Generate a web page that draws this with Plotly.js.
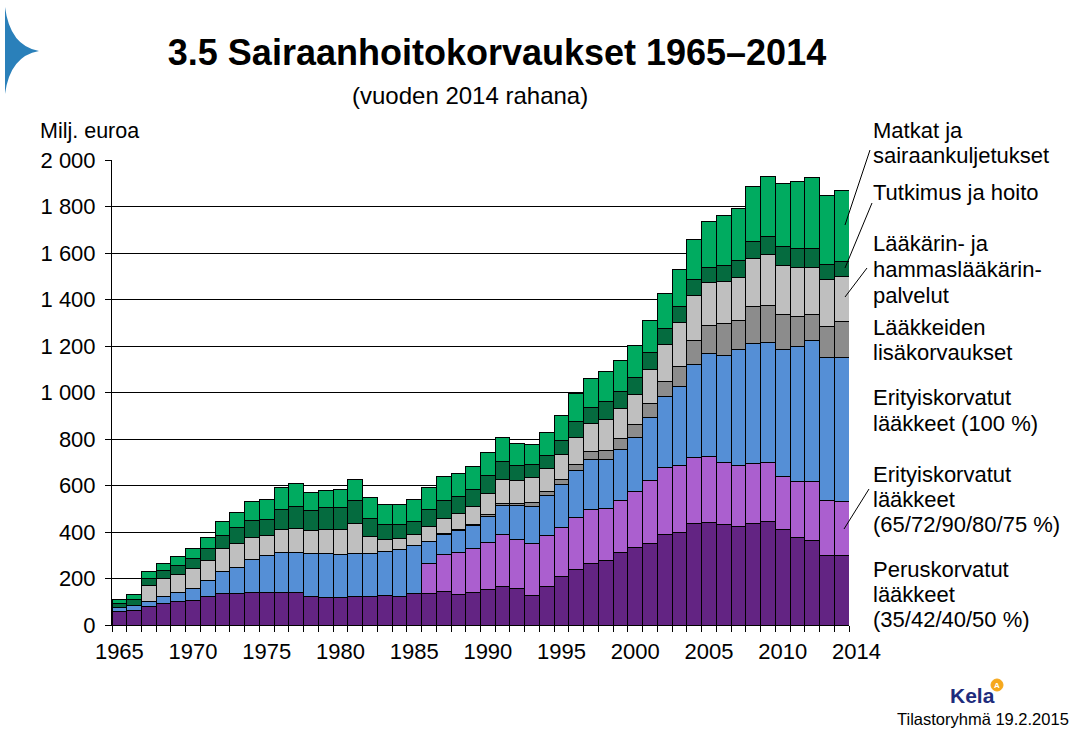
<!DOCTYPE html>
<html>
<head>
<meta charset="utf-8">
<script src="https://cdn.plot.ly/plotly-3.0.1.min.js"></script>
<style>html,body{margin:0;padding:0;background:#fff;}#chart{width:1081px;height:731px;}</style>
</head>
<body>
<div id="chart"></div>
<script>
// ---------- DATA (million euros, 2014 money) ----------
const years = [1965,1966,1967,1968,1969,1970,1971,1972,1973,1974,1975,1976,1977,1978,1979,1980,1981,1982,1983,1984,1985,1986,1987,1988,1989,1990,1991,1992,1993,1994,1995,1996,1997,1998,1999,2000,2001,2002,2003,2004,2005,2006,2007,2008,2009,2010,2011,2012,2013,2014];

const peruskorvatut = [57,63,79,93,102,106,123,136,136,140,140,140,140,123,119,119,123,123,128,123,136,136,145,132,140,153,166,158,128,166,209,239,265,278,312,334,351,390,399,437,442,433,424,437,446,412,377,364,300,300];

const erityis65 = [0,0,0,0,0,0,0,0,0,0,0,0,0,0,0,0,0,0,0,0,0,129,159,180,189,202,224,211,223,220,211,224,232,224,224,241,271,288,288,284,284,267,263,258,254,228,241,254,236,232];

const erityis100 = [17,20,23,30,38,50,69,95,112,142,160,172,172,185,189,185,185,185,189,202,207,95,85,95,97,110,126,146,159,172,185,202,215,211,219,232,271,305,339,400,443,460,499,516,516,547,581,606,615,619];

const lisakorvaukset = [0,0,0,0,0,0,0,0,0,0,0,0,0,0,0,0,0,0,0,0,0,0,5,3,6,9,7,8,17,17,21,26,35,39,47,56,60,65,87,103,120,137,124,160,159,150,129,112,134,155];

const laakarinPalvelut = [0,0,69,76,77,88,86,99,103,95,86,99,104,99,103,107,129,73,52,48,47,64,65,69,77,92,103,99,108,99,108,116,120,134,129,129,147,159,189,194,185,181,185,206,219,211,210,202,202,194];

const tutkimusHoito = [19,26,28,35,39,41,50,56,69,73,68,86,94,86,95,95,99,78,64,60,56,73,77,73,73,77,78,65,56,56,60,69,69,77,73,73,73,69,69,69,64,69,73,73,78,82,82,82,64,64];

const matkat = [17,23,32,31,38,45,49,60,65,82,86,95,99,78,73,77,90,90,86,86,95,95,103,99,99,99,103,94,86,99,108,120,125,129,133,138,137,150,160,172,198,215,224,237,258,271,288,305,297,306];

const seriesNames = [
  "Peruskorvatut lääkkeet (35/42/40/50 %)",
  "Erityiskorvatut lääkkeet (65/72/90/80/75 %)",
  "Erityiskorvatut lääkkeet (100 %)",
  "Lääkkeiden lisäkorvaukset",
  "Lääkärin- ja hammaslääkärinpalvelut",
  "Tutkimus ja hoito",
  "Matkat ja sairaankuljetukset"
];
const seriesValues = [peruskorvatut, erityis65, erityis100, lisakorvaukset, laakarinPalvelut, tutkimusHoito, matkat];
const seriesColors = ["#632483", "#AB5FCF", "#558FD6", "#8C8C8C", "#BFBFBF", "#056B3F", "#00AB60"];

const yTickVals = [0,200,400,600,800,1000,1200,1400,1600,1800,2000];
const yTickText = ["0","200","400","600","800","1 000","1 200","1 400","1 600","1 800","2 000"];
const xLabelYears = [1965,1970,1975,1980,1985,1990,1995,2000,2005,2010];

// label lines shown beside the bars (top to bottom)
const labelLines = [
  "Matkat ja", "sairaankuljetukset",
  "Tutkimus ja hoito",
  "Lääkärin- ja", "hammaslääkärin-", "palvelut",
  "Lääkkeiden", "lisäkorvaukset",
  "Erityiskorvatut", "lääkkeet (100 %)",
  "Erityiskorvatut", "lääkkeet", "(65/72/90/80/75 %)",
  "Peruskorvatut", "lääkkeet", "(35/42/40/50 %)"
];
const labelLineY = [130,155, 193, 243,269,295, 327,352, 397,423, 474,499,524, 569,594,619];

// ---------- LAYOUT HELPERS (pixel -> paper) ----------
const W = 1081, H = 731;
const L = 112, R = 849, T = 160, B = 625;
const px = x => (x - L) / (R - L);
const py = y => (B - y) / (B - T);
const F = "Liberation Sans, Arial, sans-serif";

const traces = seriesValues.map((vals, i) => ({
  type: "bar",
  x: years,
  y: vals,
  name: seriesNames[i],
  marker: {color: seriesColors[i], line: {color: "#000", width: 1}},
  hoverinfo: "x+y+name"
}));

const annotations = labelLines.map((t, i) => ({
  xref: "paper", yref: "paper", x: px(871), y: py(labelLineY[i]),
  xanchor: "left", yanchor: "middle", align: "left",
  text: t, showarrow: false,
  font: {family: F, size: 22, color: "#000"}
}));

annotations.push(
  {xref: "paper", yref: "paper", x: px(470), y: py(96), xanchor: "center", yanchor: "middle",
   text: "(vuoden 2014 rahana)", showarrow: false, font: {family: F, size: 24, color: "#000"}},
  {xref: "paper", yref: "paper", x: px(38), y: py(131), xanchor: "left", yanchor: "middle",
   text: "Milj. euroa", showarrow: false, font: {family: F, size: 21.5, color: "#000"}},
  {xref: "paper", yref: "paper", x: px(856), y: py(651), xanchor: "center", yanchor: "middle",
   text: "2014", showarrow: false, font: {family: F, size: 22, color: "#000"}},
  {xref: "paper", yref: "paper", x: px(972), y: py(695), xanchor: "center", yanchor: "middle",
   text: "<b>Kela</b>", showarrow: false, font: {family: F, size: 21, color: "#1E2C7D"}},
  {xref: "paper", yref: "paper", x: px(997), y: py(685), xanchor: "center", yanchor: "middle",
   text: "<b>A</b>", showarrow: false, font: {family: F, size: 8, color: "#fff"}},
  {xref: "paper", yref: "paper", x: px(1071), y: py(719), xanchor: "right", yanchor: "middle",
   text: "Tilastoryhmä 19.2.2015", showarrow: false, font: {family: F, size: 16.5, color: "#000"}}
);

const P = (x, y) => px(x) + "," + py(y);
const leader = (x0, y0, x1, y1) => ({
  type: "line", xref: "paper", yref: "paper",
  x0: px(x0), y0: py(y0), x1: px(x1), y1: py(y1),
  line: {color: "#000", width: 1}
});

const shapes = [
  leader(845, 225, 870, 150),
  leader(845, 268, 872, 203),
  leader(845, 297, 867, 268),
  leader(844, 529, 869, 489),
  {type: "path", xref: "paper", yref: "paper",
   path: "M" + P(5, 7) + " Q" + P(10, 46) + " " + P(39, 51) + " Q" + P(10, 56) + " " + P(5, 94) + " Z",
   fillcolor: "#2A80BA", line: {width: 0}},
  {type: "circle", xref: "paper", yref: "paper",
   x0: px(991), x1: px(1003), y0: py(679), y1: py(691),
   fillcolor: "#F6A81C", line: {color: "#F6A81C", width: 1}}
];

const layout = {
  width: W, height: H,
  margin: {l: L, r: W - R, t: T, b: H - B, pad: 0},
  paper_bgcolor: "#fff", plot_bgcolor: "#fff",
  barmode: "stack", bargap: 0,
  showlegend: false,
  title: {
    text: "<b>3.5 Sairaanhoitokorvaukset 1965–2014</b>",
    x: 497 / W, xanchor: "center", xref: "container",
    y: 1 - 52 / H, yanchor: "middle", yref: "container",
    font: {family: F, size: 36, color: "#000"}
  },
  xaxis: {
    range: [1964.5, 2014.5],
    tickmode: "array", tickvals: xLabelYears, ticktext: xLabelYears.map(String),
    ticks: "", showgrid: false, zeroline: false,
    showline: true, linecolor: "#000", linewidth: 1,
    tickfont: {family: F, size: 22, color: "#000"},
    ticklabelstandoff: 7,
    minor: {tickmode: "linear", tick0: 1964.5, dtick: 1, ticks: "outside", ticklen: 6, tickcolor: "#000", tickwidth: 1, showgrid: false}
  },
  yaxis: {
    range: [0, 2000],
    tickmode: "array", tickvals: yTickVals, ticktext: yTickText,
    ticks: "outside", ticklen: 6, tickcolor: "#000", tickwidth: 1,
    showgrid: true, gridcolor: "#000", gridwidth: 1,
    zeroline: false, showline: true, linecolor: "#000", linewidth: 1,
    tickfont: {family: F, size: 22, color: "#000"},
    ticklabelstandoff: 5
  },
  annotations: annotations,
  shapes: shapes
};

Plotly.newPlot("chart", traces, layout, {displayModeBar: false, staticPlot: true});
</script>
</body>
</html>
